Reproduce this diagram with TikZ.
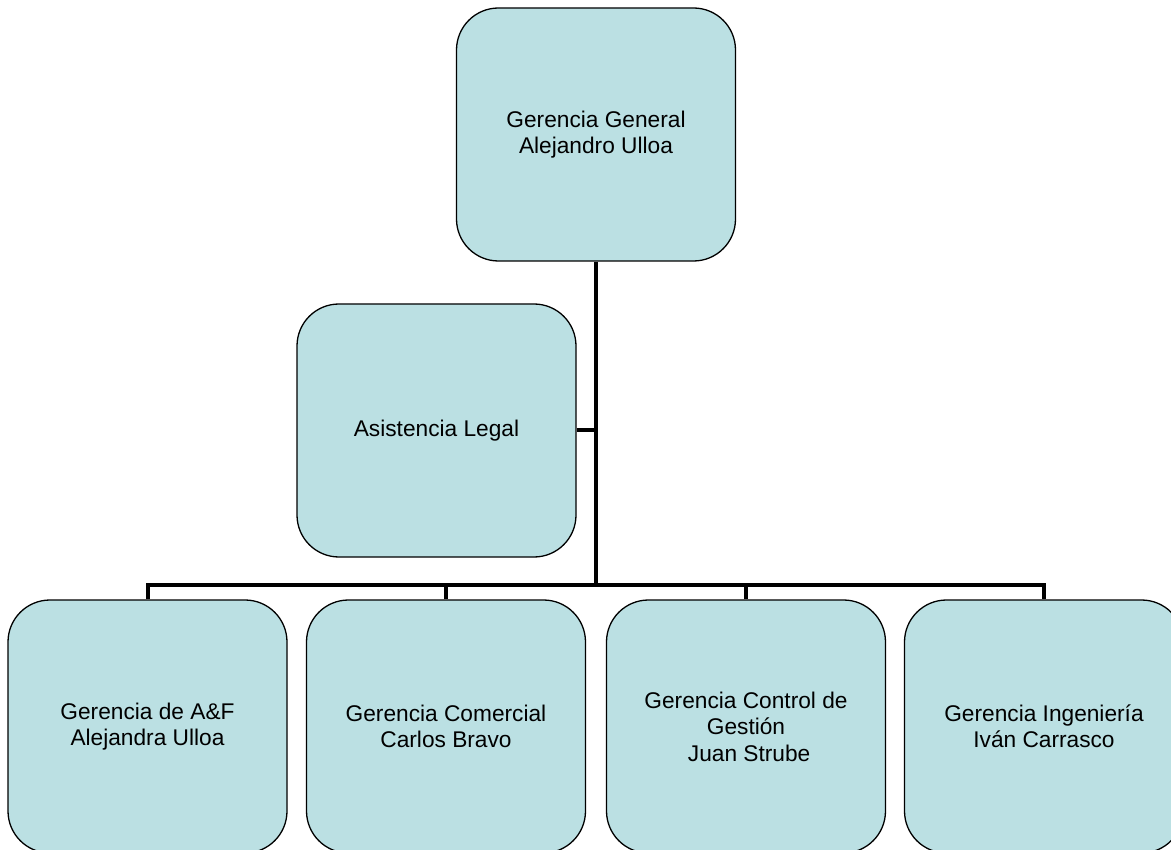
\documentclass[tikz,border=0pt]{standalone}
\usepackage{fontspec}
\setmainfont{Liberation Sans}
\definecolor{boxfill}{HTML}{BBE0E3}
\begin{document}
\begin{tikzpicture}[x=1pt,y=-1pt,
  orgbox/.style={draw=black, line width=1.3pt, fill=boxfill, rounded corners=42pt,
    minimum width=279pt, minimum height=253pt, align=center, inner sep=0pt,
    font=\fontsize{22.7}{26.5}\selectfont},
  conn/.style={line width=4pt, black}]
\useasboundingbox (0,0) rectangle (1171,850);
\clip (0,0) rectangle (1171,850);
\node[orgbox] (gg) at (596,134.5) {Gerencia General\\Alejandro Ulloa};
\node[orgbox] (legal) at (436.5,430.5) {Asistencia Legal};
\node[orgbox] (af) at (147.5,726.5) {Gerencia de A\&F\\Alejandra Ulloa};
\node[orgbox] (com) at (446,726.5) {Gerencia Comercial\\Carlos Bravo};
\node[orgbox] (cg) at (746,726.5) {Gerencia Control de\\Gestión\\\ Juan Strube};
\node[orgbox] (ing) at (1044,726.5) {Gerencia Ingeniería\\Iván Carrasco};
\coordinate (bus) at (596,585);
\draw[conn] (gg.south) -- (bus);
\draw[conn] (legal.east) -- (legal.east -| bus);
\draw[conn] (af.north) |- (bus) -| (ing.north);
\draw[conn] (com.north) -- (com.north |- bus);
\draw[conn] (cg.north) -- (cg.north |- bus);
\end{tikzpicture}
\end{document}
